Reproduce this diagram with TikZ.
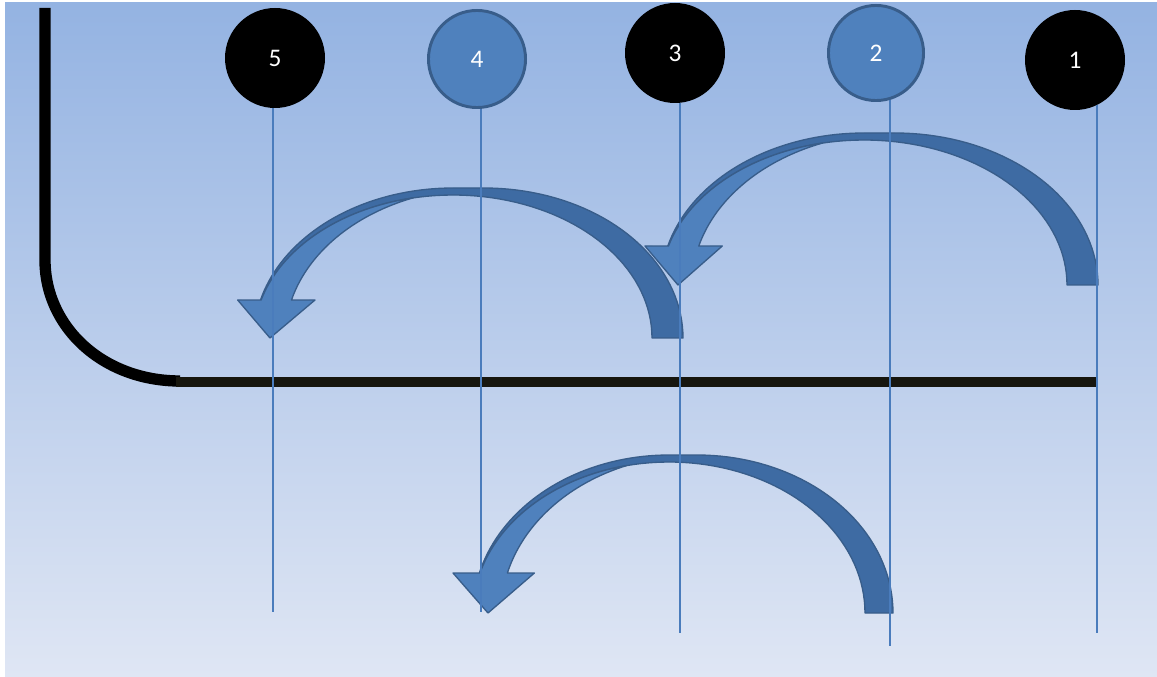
\documentclass[tikz,border=0pt]{standalone}
\usepackage{fontspec}
\setmainfont{Carlito}
\definecolor{accent}{HTML}{4F81BD}
\definecolor{accentdark}{HTML}{3E6BA3}
\definecolor{accentline}{HTML}{385D8A}
\definecolor{vlinec}{HTML}{4A7CBC}
\definecolor{bgtop}{HTML}{94B3E2}
\definecolor{bgmid}{HTML}{BCCBEA}
\definecolor{bgbot}{HTML}{DFE6F4}
\definecolor{hbar}{HTML}{17160E}
% #1 cA, #2 wR, #3 th, #4 b, #5 h, #6 ah, #7 dh, #8 tip x, #9 d
\newcommand\myCurvArrow[9]{%
 \pgfmathsetmacro\mcA{#1}\pgfmathsetmacro\mwR{#2}%
 \pgfmathsetmacro\mcB{#1-#3}%
 \pgfmathsetmacro\mb{#4}\pgfmathsetmacro\mh{#5}%
 \pgfmathsetmacro\mk{#5-#9}%
 \pgfmathsetmacro\mr{\mk/#5}%
 \pgfmathsetmacro\ma{\mr*\mr-1}%
 \pgfmathsetmacro\msp{#3/#2}%
 \pgfmathsetmacro\mbq{2*\msp}%
 \pgfmathsetmacro\mcq{1-\mr*\mr-\msp*\msp}%
 \pgfmathsetmacro\mX{(-\mbq+sqrt(\mbq*\mbq-4*\ma*\mcq))/(2*\ma)}%
 \pgfmathsetmacro\mtDc{acos(\mX)}%
 \pgfmathsetmacro\mtAc{acos(\mX-\msp)}%
 \pgfmathsetmacro\mtBh{180-asin(#6/#5)}%
 \pgfmathsetmacro\mtDh{180-asin(#6/\mk)}%
 \pgfmathsetmacro\mxD{\mcB-#2*cos(asin(#6/\mk))}%
 \pgfmathsetmacro\mxA{#1-#2*cos(asin(#6/#5))}%
 \pgfmathsetmacro\myone{#4-#6}%
 \filldraw[arrdark] plot[domain=0:90,samples=40] ({\mcA+\mwR*cos(\x)},{\mb-\mh*sin(\x)})
   -- plot[domain=90:\mtBh,samples=40] ({\mcB+\mwR*cos(\x)},{\mb-\mh*sin(\x)})
   -- plot[domain=\mtDh:0,samples=70] ({\mcB+\mwR*cos(\x)},{\mb-\mk*sin(\x)}) -- cycle;
 \filldraw[arrlight] plot[domain=\mtDc:\mtDh,samples=40] ({\mcB+\mwR*cos(\x)},{\mb-\mk*sin(\x)})
   -- (\mxD-#7,\myone) -- (#8,\mb) -- (\mxA+#7,\myone)
   -- plot[domain=\mtBh:\mtAc,samples=40] ({\mcA+\mwR*cos(\x)},{\mb-\mh*sin(\x)}) -- cycle;
}
\begin{document}
\begin{tikzpicture}[x=0.75pt,y=-0.75pt,
  blackcirc/.style={circle, fill=black, minimum size=75pt, inner sep=0pt, text=white,
    font=\fontsize{19}{21}\selectfont},
  bluecirc/.style={circle, fill=accent, draw=accentline, line width=2.2pt, minimum size=72.8pt,
    inner sep=0pt, text=white, font=\fontsize{19}{21}\selectfont},
  vl/.style={draw=vlinec, line width=0.9pt},
  arrdark/.style={fill=accentdark, draw=accentline, line width=1pt, line join=round},
  arrlight/.style={fill=accent, draw=accentline, line width=1pt, line join=round},
  lbar/.style={line width=8.5pt, draw=black},
  hbarstyle/.style={line width=7.8pt, draw=hbar}]
\fill[white] (0,0) rectangle (1157,677);
\useasboundingbox (0,0) rectangle (1157,677);
\shade[top color=bgtop, middle color=bgmid, bottom color=bgbot] (5,3) rectangle (1157,677);

% black L-shaped line
\draw[lbar] (45,8) -- (45,260) .. controls (45,326.8) and (102.7,381) .. (180,381);
\draw[hbarstyle] (176,382) -- (1096,382);

% circles
\node[blackcirc] (c5) at (275,58) {5};
\node[bluecirc]  (c4) at (477,59) {4};
\node[blackcirc] (c3) at (675,53) {3};
\node[bluecirc, minimum size=71.3pt] (c2) at (876,53) {2};
\node[blackcirc] (c1) at (1075,60) {1};

% curved arrows
\myCurvArrow{484}{199}{31}{338}{150}{38}{23.5}{270}{7}
\myCurvArrow{895}{203}{31}{285}{152}{39}{23.5}{678}{7}
\myCurvArrow{697}{196}{28}{613}{158}{40}{27}{488}{7}

% vertical lines
\coordinate (b5) at (273,612);
\coordinate (b4) at (481,612);
\coordinate (b3) at (680,633);
\coordinate (b2) at (890,646);
\coordinate (b1) at (1097,633);
\draw[vl] (c5.-92 -| b5) -- (b5);
\draw[vl] (c4.-85 -| b4) -- (b4);
\draw[vl] (c3.-84 -| b3) -- (b3);
\draw[vl] (c2.-73 -| b2) -- (b2);
\draw[vl] (c1.-64 -| b1) -- (b1);
\end{tikzpicture}
\end{document}
